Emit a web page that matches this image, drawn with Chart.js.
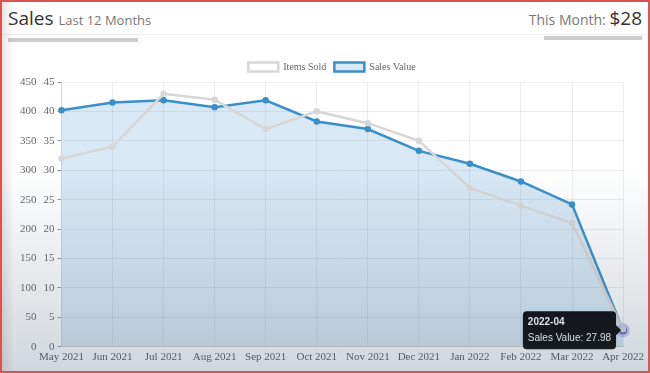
<!DOCTYPE html>
<html>
<head>
<meta charset="utf-8">
<script src="https://cdn.jsdelivr.net/npm/chart.js@4.4.0/dist/chart.umd.min.js"></script>
<style>
  html, body { margin: 0; padding: 0; background: #fff; }
  #frame {
    position: relative; width: 646px; height: 369px;
    border: 2px solid #d9534f; overflow: hidden; background: #fff;
    font-family: "Open Sans", "Noto Sans", sans-serif;
  }
  .title { position: absolute; left: 6px; top: 3px; font-size: 19px; color: #333; }
  .title small { font-size: 13px; color: #777; }
  .month { position: absolute; right: 6px; top: 3px; font-size: 14px; color: #777; }
  .month b { font-weight: normal; font-size: 19px; color: #333; }
  .rule { position: absolute; left: 0; right: 0; top: 32px; height: 1px; background: #eee; }
  .bar1 { position: absolute; left: 6px; top: 36px; width: 130px; height: 4px; background: #ccc; }
  .bar2 { position: absolute; right: 6px; top: 34px; width: 98px; height: 4px; background: #ccc; }
  #wrap { position: absolute; left: 2px; top: 52px; width: 644px; height: 314px; }
  .shade {
    position: absolute; left: 0; top: 0; right: 0; bottom: 0; pointer-events: none;
    background: linear-gradient(to bottom, rgba(90,110,130,0) 45%, rgba(90,110,130,0.28) 100%),
                linear-gradient(to right, rgba(0,0,0,0.1) 0, rgba(0,0,0,0) 12px);
  }
</style>
</head>
<body>
<div id="frame">
  <div class="title">Sales <small>Last 12 Months</small></div>
  <div class="month">This Month: <b>$28</b></div>
  <div class="rule"></div>
  <div class="bar1"></div>
  <div class="bar2"></div>
  <div id="wrap"><canvas id="sales"></canvas></div>
  <div class="shade"></div>
</div>
<script>
// months shown on the x axis and the keys used in the tooltip
let months = ['May 2021','Jun 2021','Jul 2021','Aug 2021','Sep 2021','Oct 2021',
              'Nov 2021','Dec 2021','Jan 2022','Feb 2022','Mar 2022','Apr 2022'];
let monthKeys = ['2021-05','2021-06','2021-07','2021-08','2021-09','2021-10',
                 '2021-11','2021-12','2022-01','2022-02','2022-03','2022-04'];

// series
let itemsSold = [32, 34, 43, 42, 37, 40, 38, 35, 27, 24, 21, 3];
let salesValue = [402, 415, 419, 407, 419, 383, 370, 333, 311, 281, 242, 27.98];

let serif = "'Liberation Serif', 'DejaVu Serif', serif";

const chart = new Chart(document.getElementById('sales').getContext('2d'), {
    type: 'line',
    data: {
        labels: months,
        datasets: [
            {
                label: 'Items Sold',
                data: itemsSold,
                yAxisID: 'y1',
                borderColor: 'rgba(215,215,215,1)',
                backgroundColor: 'rgba(255,255,255,1)',
                borderWidth: 2.5,
                pointRadius: 2,
                pointBackgroundColor: 'rgba(215,215,215,1)',
                pointBorderColor: 'rgba(215,215,215,1)',
                fill: false,
                tension: 0,
                order: 0
            },
            {
                label: 'Sales Value',
                data: salesValue,
                yAxisID: 'y',
                borderColor: '#3b8fc9',
                backgroundColor: 'rgba(60,140,205,0.2)',
                borderWidth: 2.5,
                pointRadius: 2,
                pointBackgroundColor: '#3b8fc9',
                pointBorderColor: '#3b8fc9',
                pointHoverRadius: 4,
                pointHoverBackgroundColor: '#173a7a',
                pointHoverBorderColor: 'rgba(140,130,230,0.45)',
                pointHoverBorderWidth: 6,
                fill: 'origin',
                tension: 0,
                order: 1
            }
        ]
    },
    options: {
        responsive: true,
        maintainAspectRatio: false,
        animation: false,
        layout: { padding: { right: 0, left: 12 } },
        interaction: { mode: 'nearest', intersect: true },
        scales: {
            x: {
                offset: false,
                grid: { color: 'rgba(0,0,0,0.07)', drawTicks: false },
                ticks: { color: '#555', font: { family: serif, size: 11 }, padding: 4, maxRotation: 0 }
            },
            y: {
                position: 'left',
                min: 0, max: 450,
                weight: 2,
                grid: { color: 'rgba(0,0,0,0.07)', drawTicks: false },
                border: { display: false },
                ticks: { stepSize: 50, color: '#666', font: { family: serif, size: 11 }, padding: 4 }
            },
            y1: {
                position: 'left',
                min: 0, max: 45,
                weight: 1,
                grid: { drawOnChartArea: false, tickLength: 4, color: '#999' },
                ticks: { stepSize: 5, color: '#666', font: { family: serif, size: 11 }, padding: 3 }
            }
        },
        plugins: {
            legend: {
                labels: {
                    boxWidth: 30, boxHeight: 9, padding: 8,
                    color: '#666',
                    font: { family: serif, size: 10 }
                }
            },
            tooltip: {
                backgroundColor: '#000',
                displayColors: false,
                cornerRadius: 4,
                padding: 5,
                caretSize: 5,
                caretPadding: 2,
                titleFont: { family: "'Liberation Sans', Arial, sans-serif", size: 10, weight: 'bold' },
                bodyFont: { family: "'Liberation Sans', Arial, sans-serif", size: 10 },
                titleMarginBottom: 4,
                callbacks: {
                    title: items => monthKeys[items[0].dataIndex]
                }
            }
        }
    }
});

// show the hovered last point as in the reference
let active = [{ datasetIndex: 1, index: 11 }];
chart.setActiveElements(active);
let pt = chart.getDatasetMeta(1).data[11];
chart.tooltip.setActiveElements(active, { x: pt.x, y: pt.y });
chart.update('none');
</script>
</body>
</html>
